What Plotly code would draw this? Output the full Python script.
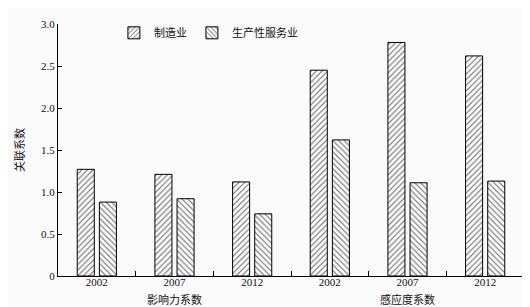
import plotly.graph_objects as go

groups = ["影响力系数"] * 3 + ["感应度系数"] * 3
years = ["2002", "2007", "2012", "2002", "2007", "2012"]
manufacturing = [1.27, 1.21, 1.12, 2.45, 2.78, 2.62]
services = [0.88, 0.92, 0.74, 1.62, 1.11, 1.13]
y_ticks = [0, 0.5, 1.0, 1.5, 2.0, 2.5, 3.0]
y_ticktext = ["0", "0.5", "1.0", "1.5", "2.0", "2.5", "3.0"]

FONT = "Liberation Serif, Noto Sans CJK SC, serif"

fig = go.Figure()
fig.add_trace(go.Bar(
    x=[groups, years], y=manufacturing, name="制造业",
    marker=dict(color="white", line=dict(color="black", width=1),
                pattern=dict(shape="/", fgcolor="black", bgcolor="white", size=4, solidity=0.3)),
))
fig.add_trace(go.Bar(
    x=[groups, years], y=services, name="生产性服务业",
    marker=dict(color="white", line=dict(color="black", width=1),
                pattern=dict(shape="\\", fgcolor="black", bgcolor="white", size=4, solidity=0.3)),
))

fig.update_layout(
    width=530, height=307,
    margin=dict(l=50, r=14, t=10, b=39),
    paper_bgcolor="#fafafa", plot_bgcolor="#fafafa",
    font=dict(family=FONT, size=11, color="#111"),
    barmode="group", bargap=0.43, bargroupgap=0.23,
    showlegend=True,
    legend=dict(orientation="h", x=0.12, y=0.965, xanchor="left", yanchor="middle",
                bgcolor="rgba(0,0,0,0)", font=dict(size=11, color="#111"), itemwidth=30,
                tracegroupgap=0),
)
fig.update_xaxes(
    type="multicategory", showline=True, linecolor="black", linewidth=1,
    ticks="inside", ticklen=5, tickcolor="black", showdividers=False,
    showgrid=False, zeroline=False, tickfont=dict(size=11, color="#111"),
    ticklabelstandoff=-4,
)
fig.update_yaxes(
    range=[0, 3.0], tickvals=y_ticks, ticktext=y_ticktext,
    showline=True, linecolor="black", linewidth=1,
    ticks="inside", ticklen=4, tickcolor="black",
    showgrid=False, zeroline=False, tickfont=dict(size=11, color="#111"),
    title=dict(text="关联系数", font=dict(size=11, color="#111"), standoff=14),
)
fig.write_html("out.html")
